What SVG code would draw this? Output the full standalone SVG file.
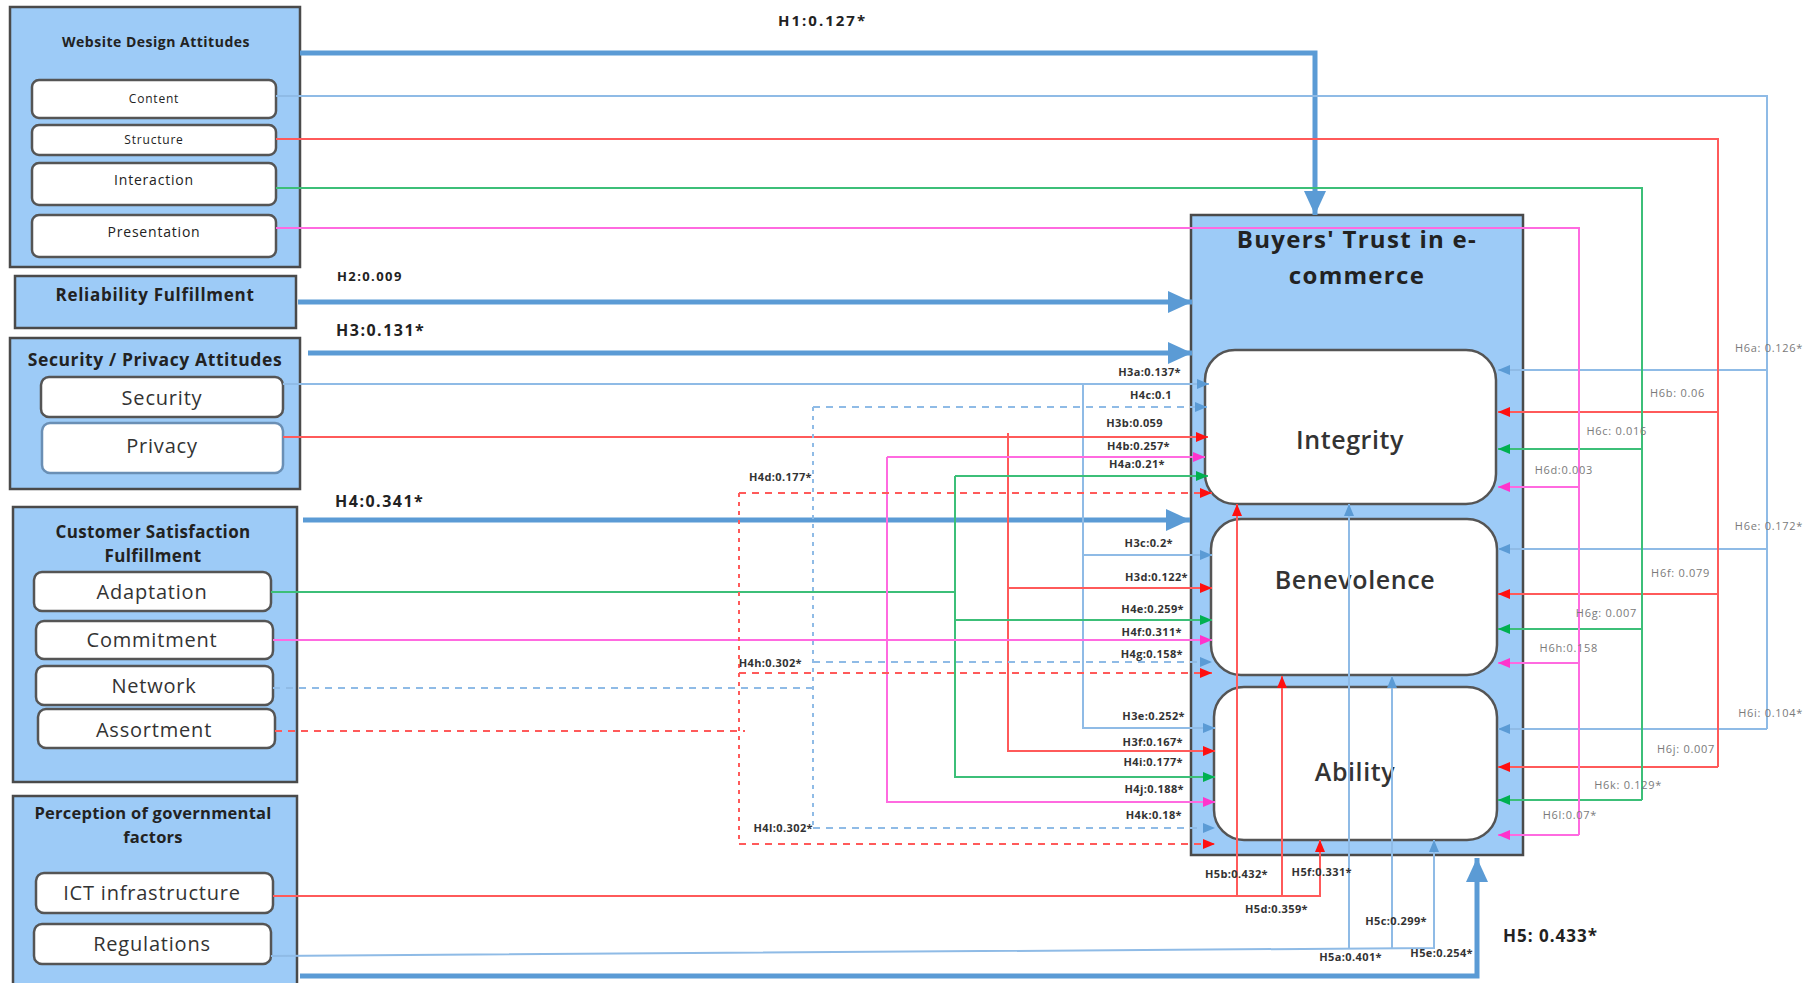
<svg xmlns="http://www.w3.org/2000/svg" width="1816" height="983" viewBox="0 0 1816 983">
<style>
.grp{fill:#9dcbf7;stroke:#4a4a4a;stroke-width:2.5}
.sub{fill:#fff;stroke:#555;stroke-width:2.5}
.inner{fill:#fff;stroke:#555;stroke-width:2.5}
.t{font-family:"Open Sans","Liberation Sans",sans-serif;fill:#222;text-anchor:middle}
.tb{font-weight:bold}
.s20{font-size:20px;letter-spacing:0.8px;fill:#333}
.inn{font-size:25px;font-weight:600;fill:#333;letter-spacing:0.6px}
.lab{font-family:"Open Sans","Liberation Sans",sans-serif;font-size:11px;letter-spacing:0.4px;font-weight:bold;fill:#333;text-anchor:end}
.rlab{font-family:"Open Sans","Liberation Sans",sans-serif;font-size:11px;letter-spacing:0.7px;fill:#7a7a7a;text-anchor:end}
.hl{font-family:"Open Sans","Liberation Sans",sans-serif;font-weight:bold;fill:#222}
.thick{fill:none;stroke:#5b9bd5;stroke-width:5}
.bl{fill:none;stroke:#8fbbe6;stroke-width:2}
.rd{fill:none;stroke:#ff5a5a;stroke-width:2}
.gr{fill:none;stroke:#3cbf78;stroke-width:2}
.mg{fill:none;stroke:#ff6ae0;stroke-width:2}
.dash{stroke-dasharray:7 6}
.dot{stroke-dasharray:4 5}
</style>
<defs>
<marker id="aT" markerUnits="userSpaceOnUse" markerWidth="26" markerHeight="22" refX="24" refY="11" orient="auto"><path d="M0,0 L24,11 L0,22 z" fill="#5b9bd5"/></marker>
<marker id="aB" markerUnits="userSpaceOnUse" markerWidth="12" markerHeight="10" refX="12" refY="5" orient="auto"><path d="M0,0 L12,5 L0,10 z" fill="#5b9bd5"/></marker>
<marker id="aR" markerUnits="userSpaceOnUse" markerWidth="12" markerHeight="10" refX="12" refY="5" orient="auto"><path d="M0,0 L12,5 L0,10 z" fill="#ff1010"/></marker>
<marker id="aG" markerUnits="userSpaceOnUse" markerWidth="12" markerHeight="10" refX="12" refY="5" orient="auto"><path d="M0,0 L12,5 L0,10 z" fill="#00b050"/></marker>
<marker id="aM" markerUnits="userSpaceOnUse" markerWidth="12" markerHeight="10" refX="12" refY="5" orient="auto"><path d="M0,0 L12,5 L0,10 z" fill="#ff33cc"/></marker>
</defs>
<rect width="1816" height="983" fill="#fff"/>

<g id="website-design">
<rect class="grp" x="10" y="7" width="290" height="260"/>
<text class="t tb" x="156" y="47" font-size="14" letter-spacing="0.5">Website Design Attitudes</text>
<rect class="sub" x="32" y="80" width="244" height="38" rx="7"/>
<text class="t" x="154" y="103" font-size="12" letter-spacing="0.8">Content</text>
<rect class="sub" x="32" y="125" width="244" height="30" rx="7"/>
<text class="t" x="154" y="144" font-size="12" letter-spacing="0.8">Structure</text>
<rect class="sub" x="32" y="163" width="244" height="42" rx="7"/>
<text class="t" x="154" y="185" font-size="14" letter-spacing="0.8">Interaction</text>
<rect class="sub" x="32" y="215" width="244" height="42" rx="7"/>
<text class="t" x="154" y="237" font-size="14" letter-spacing="0.8">Presentation</text>
</g>

<g id="reliability">
<rect class="grp" x="15" y="276" width="281" height="52"/>
<text class="t tb" x="155" y="301" font-size="17" letter-spacing="0.7">Reliability Fulfillment</text>
</g>

<g id="security-privacy">
<rect class="grp" x="10" y="338" width="290" height="151"/>
<text class="t tb" x="155" y="366" font-size="17.5" letter-spacing="0.6">Security / Privacy Attitudes</text>
<rect class="sub" x="41" y="377" width="242" height="40" rx="8"/>
<text class="t s20" x="162" y="405">Security</text>
<rect class="sub" x="42" y="423" width="241" height="50" rx="8" style="stroke:#6a8fb5"/>
<text class="t s20" x="162" y="453">Privacy</text>
</g>

<g id="customer-satisfaction">
<rect class="grp" x="13" y="507" width="284" height="275"/>
<text class="t tb" x="153" y="538" font-size="17" letter-spacing="0.35">Customer Satisfaction</text>
<text class="t tb" x="153" y="562" font-size="17" letter-spacing="0.35">Fulfillment</text>
<rect class="sub" x="34" y="572" width="237" height="39" rx="8"/>
<text class="t s20" x="152" y="599">Adaptation</text>
<rect class="sub" x="36" y="621" width="237" height="38" rx="8"/>
<text class="t s20" x="152" y="647">Commitment</text>
<rect class="sub" x="36" y="666" width="237" height="39" rx="8"/>
<text class="t s20" x="154" y="693">Network</text>
<rect class="sub" x="38" y="709" width="237" height="39" rx="8"/>
<text class="t s20" x="154" y="737">Assortment</text>
</g>

<g id="governmental">
<rect class="grp" x="13" y="796" width="284" height="194"/>
<text class="t tb" x="153" y="819" font-size="16.5" letter-spacing="0.25">Perception of governmental</text>
<text class="t tb" x="153" y="843" font-size="16.5" letter-spacing="0.25">factors</text>
<rect class="sub" x="36" y="873" width="237" height="40" rx="8"/>
<text class="t s20" x="152" y="900">ICT infrastructure</text>
<rect class="sub" x="34" y="924" width="237" height="40" rx="8"/>
<text class="t s20" x="152" y="951">Regulations</text>
</g>

<g id="buyers-trust">
<rect class="grp" x="1191" y="215" width="332" height="640"/>
<text class="t tb" x="1357" y="248" font-size="24" letter-spacing="1.3">Buyers' Trust in e-</text>
<text class="t tb" x="1357" y="284" font-size="24" letter-spacing="1.3">commerce</text>
<rect class="inner" x="1205" y="350" width="291" height="154" rx="30"/>
<text class="t inn" x="1350" y="449">Integrity</text>
<rect class="inner" x="1211" y="519" width="286" height="156" rx="30"/>
<text class="t inn" x="1355" y="589">Benevolence</text>
<rect class="inner" x="1214" y="687" width="283" height="153" rx="30"/>
<text class="t inn" x="1355" y="781">Ability</text>
</g>

<g id="connectors">
<path class="thick" d="M300,53 H1315 V215" marker-end="url(#aT)"/>
<path class="thick" d="M298,302 H1192" marker-end="url(#aT)"/>
<path class="thick" d="M308,353 H1192" marker-end="url(#aT)"/>
<path class="thick" d="M303,520 H1190" marker-end="url(#aT)"/>
<path class="thick" d="M300,976 H1477 V858" marker-end="url(#aT)"/>

<path class="bl" d="M276,96 H1767 V729"/>
<path class="bl" d="M1767,370 H1498" marker-end="url(#aB)"/>
<path class="bl" d="M1767,549 H1498" marker-end="url(#aB)"/>
<path class="bl" d="M1767,729 H1498" marker-end="url(#aB)"/>
<path class="rd" d="M276,139 H1718 V767"/>
<path class="rd" d="M1718,412 H1498" marker-end="url(#aR)"/>
<path class="rd" d="M1718,594 H1498" marker-end="url(#aR)"/>
<path class="rd" d="M1718,767 H1498" marker-end="url(#aR)"/>
<path class="gr" d="M276,188 H1642 V800"/>
<path class="gr" d="M1642,449 H1498" marker-end="url(#aG)"/>
<path class="gr" d="M1642,629 H1498" marker-end="url(#aG)"/>
<path class="gr" d="M1642,800 H1498" marker-end="url(#aG)"/>
<path class="mg" d="M276,228 H1579 V835"/>
<path class="mg" d="M1579,487 H1498" marker-end="url(#aM)"/>
<path class="mg" d="M1579,663 H1498" marker-end="url(#aM)"/>
<path class="mg" d="M1579,835 H1498" marker-end="url(#aM)"/>

<path class="bl" d="M283,384 H1209" marker-end="url(#aB)"/>
<path class="bl" d="M1083,384 V728 H1215" marker-end="url(#aB)"/>
<path class="bl" d="M1083,555 H1212" marker-end="url(#aB)"/>
<path class="rd" d="M283,437 H1208" marker-end="url(#aR)"/>
<path class="rd" d="M1008,433 V751 H1215" marker-end="url(#aR)"/>
<path class="rd" d="M1008,588 H1212" marker-end="url(#aR)"/>
<path class="gr" d="M271,592 H955"/>
<path class="gr" d="M955,476 V777 H1215" marker-end="url(#aG)"/>
<path class="gr" d="M955,476 H1208" marker-end="url(#aG)"/>
<path class="gr" d="M955,620 H1212" marker-end="url(#aG)"/>
<path class="mg" d="M273,640 H1212" marker-end="url(#aM)"/>
<path class="mg" d="M887,457 V802 H1215" marker-end="url(#aM)"/>
<path class="mg" d="M887,457 H1205" marker-end="url(#aM)"/>
<path class="bl dash" d="M273,688 H813"/>
<path class="bl dot" d="M813,407 V828"/>
<path class="bl dash" d="M813,407 H1207" marker-end="url(#aB)"/>
<path class="bl dash" d="M813,662 H1212" marker-end="url(#aB)"/>
<path class="bl dash" d="M813,828 H1215" marker-end="url(#aB)"/>
<path class="rd dash" d="M275,731 H745"/>
<path class="rd dot" d="M739,493 V844"/>
<path class="rd dash" d="M739,493 H1212" marker-end="url(#aR)"/>
<path class="rd dash" d="M739,673 H1212" marker-end="url(#aR)"/>
<path class="rd dash" d="M739,844 H1215" marker-end="url(#aR)"/>
<path class="rd" d="M273,896 H1320 V840" marker-end="url(#aR)"/>
<path class="rd" d="M1237,896 V504" marker-end="url(#aR)"/>
<path class="rd" d="M1282,896 V676" marker-end="url(#aR)"/>
<path class="bl" d="M271,956 L1434,948 V840" marker-end="url(#aB)"/>
<path class="bl" d="M1349,949 V504" marker-end="url(#aB)"/>
<path class="bl" d="M1392,949 V676" marker-end="url(#aB)"/>
</g>

<g id="labels">
<text class="hl" x="778" y="26" font-size="15" letter-spacing="2">H1:0.127*</text>
<text class="hl" x="337" y="281" font-size="13" letter-spacing="1.4">H2:0.009</text>
<text class="hl" x="336" y="336" font-size="16" letter-spacing="1.5">H3:0.131*</text>
<text class="hl" x="335" y="507" font-size="16" letter-spacing="1.5">H4:0.341*</text>
<text class="hl" x="1503" y="942" font-size="17" letter-spacing="1">H5: 0.433*</text>

<text class="lab" x="1181" y="376">H3a:0.137*</text>
<text class="lab" x="1172" y="399">H4c:0.1</text>
<text class="lab" x="1163" y="427">H3b:0.059</text>
<text class="lab" x="1170" y="450">H4b:0.257*</text>
<text class="lab" x="1165" y="468">H4a:0.21*</text>
<text class="lab" x="812" y="481">H4d:0.177*</text>
<text class="lab" x="1173" y="547">H3c:0.2*</text>
<text class="lab" x="1188" y="581">H3d:0.122*</text>
<text class="lab" x="1184" y="613">H4e:0.259*</text>
<text class="lab" x="1182" y="636">H4f:0.311*</text>
<text class="lab" x="1183" y="658">H4g:0.158*</text>
<text class="lab" x="802" y="667">H4h:0.302*</text>
<text class="lab" x="1185" y="720">H3e:0.252*</text>
<text class="lab" x="1183" y="746">H3f:0.167*</text>
<text class="lab" x="1183" y="766">H4i:0.177*</text>
<text class="lab" x="1184" y="793">H4j:0.188*</text>
<text class="lab" x="1182" y="819">H4k:0.18*</text>
<text class="lab" x="813" y="832">H4l:0.302*</text>

<text class="lab" x="1268" y="878">H5b:0.432*</text>
<text class="lab" x="1352" y="876">H5f:0.331*</text>
<text class="lab" x="1308" y="913">H5d:0.359*</text>
<text class="lab" x="1427" y="925">H5c:0.299*</text>
<text class="lab" x="1382" y="961">H5a:0.401*</text>
<text class="lab" x="1473" y="957">H5e:0.254*</text>

<text class="rlab" x="1803" y="352">H6a: 0.126*</text>
<text class="rlab" x="1705" y="397">H6b: 0.06</text>
<text class="rlab" x="1647" y="435">H6c: 0.016</text>
<text class="rlab" x="1593" y="474">H6d:0.003</text>
<text class="rlab" x="1803" y="530">H6e: 0.172*</text>
<text class="rlab" x="1710" y="577">H6f: 0.079</text>
<text class="rlab" x="1637" y="617">H6g: 0.007</text>
<text class="rlab" x="1598" y="652">H6h:0.158</text>
<text class="rlab" x="1803" y="717">H6i: 0.104*</text>
<text class="rlab" x="1715" y="753">H6j: 0.007</text>
<text class="rlab" x="1662" y="789">H6k: 0.129*</text>
<text class="rlab" x="1597" y="819">H6l:0.07*</text>
</g>
</svg>
